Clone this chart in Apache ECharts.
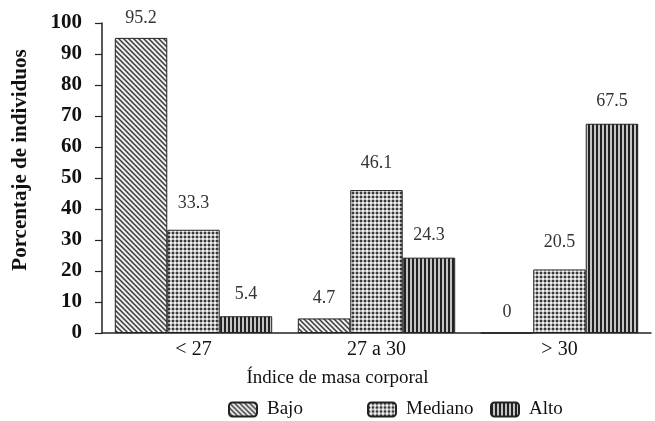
<!DOCTYPE html>
<html>
<head>
<meta charset="utf-8">
<script src="https://cdn.jsdelivr.net/npm/echarts@6/dist/echarts.min.js"></script>
<style>html,body{margin:0;padding:0;background:#fff;}#c{width:655px;height:421px;}</style>
</head>
<body>
<div id="c"></div>
<script>
var categories = ['< 27', '27 a 30', '> 30'];
var seriesNames = ['Bajo', 'Mediano', 'Alto'];
var bajo = [95.2, 4.7, 0];
var mediano = [33.3, 46.1, 20.5];
var alto = [5.4, 24.3, 67.5];
var yMin = 0, yMax = 100, yInterval = 10;

var FONT = '"Liberation Serif", "DejaVu Serif", serif';

function makeCanvas(w, h, draw) {
  var c = document.createElement('canvas');
  c.width = w; c.height = h;
  var ctx = c.getContext('2d');
  draw(ctx, w, h);
  return c;
}
// diagonal "\\" lines
var diagPat = makeCanvas(5, 5, function (ctx, w, h) {
  ctx.fillStyle = '#eeeeee'; ctx.fillRect(0, 0, w, h);
  ctx.strokeStyle = '#3a3a3a'; ctx.lineWidth = 1.5;
  ctx.beginPath();
  ctx.moveTo(-1, -1); ctx.lineTo(w + 1, h + 1);
  ctx.moveTo(-1 - w, -1); ctx.lineTo(1, h + 1);
  ctx.moveTo(w - 1, -1); ctx.lineTo(2 * w + 1, h + 1);
  ctx.stroke();
});
// dotted checker
var dotPat = makeCanvas(4, 4, function (ctx, w, h) {
  ctx.fillStyle = '#b4b4b4'; ctx.fillRect(0, 0, w, h);
  ctx.fillStyle = '#383838';
  ctx.fillRect(0, 0, 2, 2);
  ctx.fillStyle = '#f0f0f0';
  ctx.fillRect(2, 2, 2, 2);
});
// vertical lines
var vertPat = makeCanvas(4, 4, function (ctx, w, h) {
  ctx.fillStyle = '#c4c4c4'; ctx.fillRect(0, 0, w, h);
  ctx.fillStyle = '#222'; ctx.fillRect(0, 0, 2, h);
});

var patterns = [diagPat, dotPat, vertPat];
var dataSets = [bajo, mediano, alto];
var labelDist = [11, 18, 13];

var series = dataSets.map(function (d, i) {
  return {
    name: seriesNames[i],
    type: 'bar',
    data: d,
    barGap: '0%',
    barCategoryGap: '14%',
    itemStyle: { color: { image: patterns[i], repeat: 'repeat' }, borderColor: '#222', borderWidth: 1 },
    label: { show: true, position: 'top', distance: labelDist[i], fontFamily: FONT, fontSize: 18, color: '#333' },
    emphasis: { disabled: true },
    animation: false
  };
});

var legendLefts = [223, 362, 485];
var legends = seriesNames.map(function (n, i) {
  return {
    data: [n], left: legendLefts[i], top: 395, itemWidth: 28, itemHeight: 14,
    textStyle: { fontFamily: FONT, fontSize: 19, color: '#111', padding: [0, 0, 0, 5] },
    selectedMode: false
  };
});

var chart = echarts.init(document.getElementById('c'));
chart.setOption({
  backgroundColor: '#fff',
  animation: false,
  grid: { left: 102, right: 4, top: 23, bottom: 88, containLabel: false },
  legend: legends,
  xAxis: {
    type: 'category', data: categories,
    name: 'Índice de masa corporal', nameLocation: 'middle', nameGap: 36,
    nameTextStyle: { fontFamily: FONT, fontSize: 19, color: '#111', padding: [0, 78, 0, 0] },
    axisLine: { lineStyle: { color: '#222', width: 1.5 } },
    axisTick: { show: false },
    axisLabel: { fontFamily: FONT, fontSize: 20, color: '#111', margin: 7 }
  },
  yAxis: {
    type: 'value', min: yMin, max: yMax, interval: yInterval,
    axisLine: { show: true, lineStyle: { color: '#222', width: 1.5 } },
    axisTick: { show: true, length: 7, lineStyle: { color: '#222', width: 1.2 } },
    splitLine: { show: false },
    axisLabel: { fontFamily: FONT, fontSize: 21, fontWeight: 'bold', color: '#111', margin: 20 }
  },
  graphic: [{
    type: 'text', x: 21, y: 160, rotation: Math.PI / 2,
    style: { text: 'Porcentaje de individuos', fontFamily: FONT, fontSize: 21, fontWeight: 'bold', fill: '#111', align: 'center', verticalAlign: 'middle' }
  }],
  series: series
});
</script>
</body>
</html>
